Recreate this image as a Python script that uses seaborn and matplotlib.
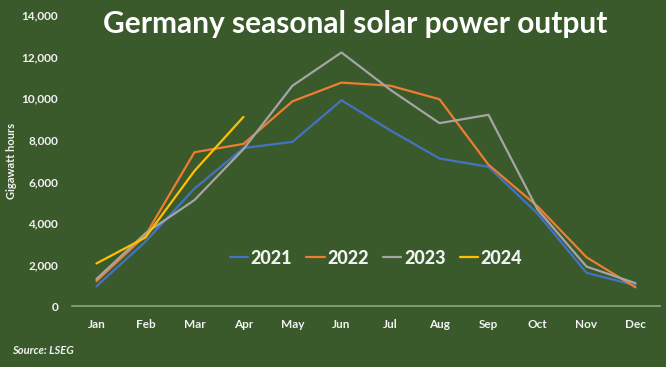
import matplotlib
matplotlib.use("Agg")
from matplotlib import pyplot as plt
from matplotlib.ticker import FuncFormatter
import pandas as pd
import seaborn as sns

months = ["Jan", "Feb", "Mar", "Apr", "May", "Jun",
          "Jul", "Aug", "Sep", "Oct", "Nov", "Dec"]

gwh_2021 = [950, 3100, 5650, 7600, 7900, 9900, 8450, 7100, 6700, 4450, 1600, 1000]
gwh_2022 = [1200, 3400, 7400, 7800, 9850, 10750, 10600, 9950, 6800, 4800, 2350, 900]
gwh_2023 = [1300, 3500, 5100, 7550, 10600, 12200, 10400, 8800, 9200, 4650, 1900, 1100]
gwh_2024 = [2050, 3300, 6500, 9100]

years = ["2021", "2022", "2023", "2024"]
colors = ["#4472c4", "#ed7d31", "#a5a5a5", "#ffc000"]

BG = "#3b5a2b"
TXT = "#f2f2f2"

rows = []
for yr, vals in zip(years, [gwh_2021, gwh_2022, gwh_2023, gwh_2024]):
    for i, v in enumerate(vals):
        rows.append({"month": i, "year": yr, "gwh": v})
df = pd.DataFrame(rows)

sns.set_style("white")
plt.rcParams['font.family'] = ['Lato', 'DejaVu Sans']

fig = plt.figure(figsize=(6.66, 3.67), dpi=100)
fig.patch.set_facecolor(BG)
ax = fig.add_axes([0.108, 0.166, 0.883, 0.793])
ax.set_facecolor(BG)

sns.lineplot(data=df, x="month", y="gwh", hue="year", hue_order=years,
             palette=colors, linewidth=1.6, ax=ax, legend=True)

ax.set_xlim(-0.5, 11.5)
ax.set_ylim(0, 14000)
ax.set_xticks(range(12))
ax.set_xticklabels(months)
ax.set_yticks(range(0, 14001, 2000))
ax.yaxis.set_major_formatter(FuncFormatter(lambda v, p: f"{int(v):,}"))
ax.tick_params(axis="both", length=0, colors=TXT, labelsize=8.5)
ax.tick_params(axis="x", pad=9)
ax.tick_params(axis="y", pad=10)
for lab in ax.get_xticklabels() + ax.get_yticklabels():
    lab.set_fontweight("bold")

for side in ["top", "right", "left"]:
    ax.spines[side].set_visible(False)
ax.spines["bottom"].set_color("#8fa383")
ax.spines["bottom"].set_linewidth(1.2)

ax.set_xlabel("")
ax.set_ylabel("Gigawatt hours", color=TXT, fontsize=8, fontweight="bold")
ax.yaxis.set_label_coords(-0.094, 0.5)

leg = ax.legend(loc="center", bbox_to_anchor=(0.517, 0.165), ncol=4, frameon=False,
                handlelength=1.0, handletextpad=0.15, columnspacing=0.8,
                prop={"size": 13, "weight": "black"})
for t in leg.get_texts():
    t.set_color(TXT)

fig.text(0.533, 0.935, "Germany seasonal solar power output", ha="center", va="center",
         color="white", fontsize=21.5, fontweight="bold")
fig.text(0.018, 0.045, "Source: LSEG", ha="left", va="center", color=TXT,
         fontsize=8, fontweight="bold", fontstyle="italic")

fig.savefig("out.png", dpi=100, facecolor=BG)
